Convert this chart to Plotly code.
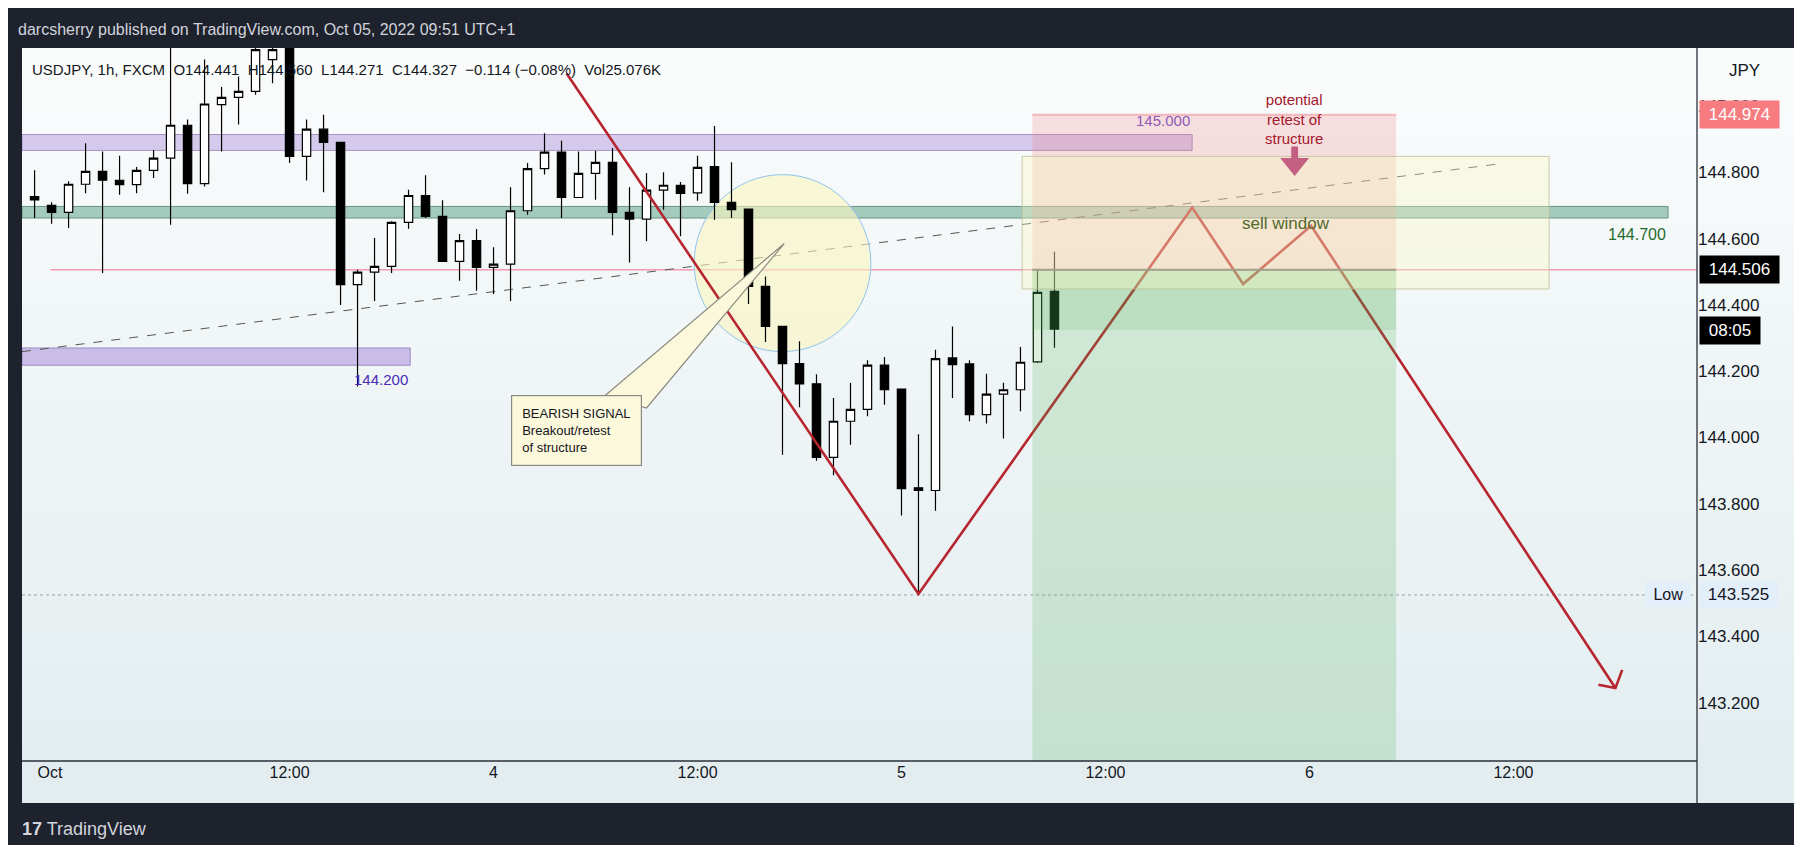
import plotly.graph_objects as go

# hours since Oct 3 00:00 (UTC+1)
hours = list(range(-3, 58))
opens = [144.727,144.700,144.679,144.764,144.803,144.776,144.763,144.806,144.843,144.942,
         144.766,145.004,145.026,145.044,145.140,145.190,144.848,144.930,144.890,144.461,
         144.499,144.516,144.649,144.730,144.667,144.531,144.594,144.513,144.523,144.684,
         144.811,144.861,144.724,144.797,144.830,144.679,144.659,144.746,144.761,144.738,
         144.817,144.709,144.689,144.456,144.335,144.223,144.162,143.940,144.049,144.085,
         144.218,144.146,143.848,143.840,144.240,144.222,144.069,144.131,144.144,144.228,144.441]
highs = [144.806,144.710,144.773,144.888,144.863,144.850,144.816,144.867,145.175,144.959,
         145.140,145.057,145.089,145.205,145.210,145.200,144.959,144.974,144.890,144.506,
         144.602,144.652,144.747,144.791,144.716,144.614,144.629,144.574,144.755,144.828,
         144.918,144.895,144.863,144.865,144.873,144.755,144.798,144.800,144.771,144.850,
         144.940,144.830,144.689,144.486,144.335,144.290,144.191,144.119,144.164,144.233,
         144.243,144.146,144.010,144.265,144.335,144.233,144.192,144.165,144.273,144.506,144.560]
lows = [144.662,144.645,144.632,144.737,144.496,144.732,144.737,144.783,144.642,144.735,
        144.757,144.863,144.944,145.034,145.069,144.828,144.775,144.740,144.400,144.154,
        144.412,144.496,144.630,144.662,144.530,144.473,144.443,144.433,144.412,144.672,
        144.793,144.662,144.724,144.717,144.610,144.528,144.592,144.687,144.607,144.714,
        144.657,144.662,144.403,144.288,143.948,144.091,143.930,143.886,143.978,144.064,
        144.099,143.765,143.525,143.779,144.119,144.049,144.042,143.997,144.079,144.225,144.271]
closes = [144.717,144.679,144.764,144.803,144.776,144.763,144.806,144.843,144.942,144.766,
          145.006,145.026,145.044,145.170,145.170,144.848,144.930,144.890,144.461,144.499,
          144.516,144.649,144.730,144.667,144.531,144.594,144.513,144.523,144.684,144.811,
          144.861,144.724,144.797,144.830,144.679,144.659,144.746,144.761,144.736,144.815,
          144.709,144.687,144.456,144.335,144.223,144.162,143.940,144.049,144.085,144.218,
          144.144,143.846,143.840,144.238,144.220,144.069,144.131,144.144,144.227,144.438,144.327]

x_tick_pos = [-2.1, 12, 24, 36, 48, 60, 72, 84]
x_tick_text = ["Oct", "12:00", "4", "12:00", "5", "12:00", "6", "12:00"]
y_ticks = [143.2, 143.4, 143.6, 143.8, 144.0, 144.2, 144.4, 144.6, 144.8, 145.0]

# projection zigzag (hour, price)
zig_x = [28.3, 49.0, 65.1, 68.1, 72.1, 90.0]
zig_y = [145.098, 143.528, 144.694, 144.463, 144.639, 143.244]
arrow_x = [89.0, 90.0, 90.4]
arrow_y = [143.254, 143.244, 143.299]

last_price = 144.506
stop_price = 144.974
low_price = 143.525
countdown_price = 144.324

XR = [-3.74, 94.8]
YR = [143.024, 145.175]
RED = "#b7252f"
FONT = "Liberation Sans"
ZX0, ZX1 = 55.7, 77.1

fig = go.Figure()

fig.add_trace(go.Scatter(x=zig_x, y=zig_y, mode="lines", line=dict(color=RED, width=2.6),
                         hoverinfo="skip"))
fig.add_trace(go.Scatter(x=arrow_x, y=arrow_y, mode="lines", line=dict(color=RED, width=2.6),
                         hoverinfo="skip"))
fig.add_trace(go.Candlestick(
    x=hours, open=opens, high=highs, low=lows, close=closes,
    increasing=dict(fillcolor="white", line=dict(color="black", width=1.2)),
    decreasing=dict(fillcolor="black", line=dict(color="black", width=1.2)),
    whiskerwidth=0))

shapes = []
# background gradient over panel (plot + axis areas); stripes overlap to avoid seams
n = 26
ybot, ytop = -0.0589, 1.0
step = (ytop - ybot) / n
for i in range(n):
    t = i / (n - 1)
    r = int(250 - 23 * t); g = int(252 - 15 * t); b = int(252 - 12 * t)
    y1 = ytop - step * i
    y0 = max(ybot, y1 - step * 1.6)
    shapes.append(dict(type="rect", xref="paper", yref="paper", x0=0, x1=1.0585,
                       y0=y0, y1=y1, fillcolor=f"rgb({r},{g},{b})",
                       line=dict(width=0), layer="below"))
# bands
shapes += [
    dict(type="rect", x0=XR[0], x1=65.1, y0=144.866, y1=144.914,
         fillcolor="rgba(190,170,225,0.6)", line=dict(color="rgba(150,130,190,0.8)", width=1), layer="below"),
    dict(type="rect", x0=XR[0], x1=93.1, y0=144.662, y1=144.697,
         fillcolor="rgba(110,170,150,0.6)", line=dict(color="rgba(80,130,110,0.8)", width=1), layer="below"),
    dict(type="rect", x0=XR[0], x1=19.1, y0=144.218, y1=144.270,
         fillcolor="rgba(190,170,225,0.75)", line=dict(color="rgba(150,130,190,0.9)", width=1), layer="below"),
    dict(type="line", x0=-2.06, x1=XR[1], y0=last_price, y1=last_price,
         line=dict(color="#f29ab8", width=1.5), layer="below"),
    dict(type="line", x0=XR[0], x1=XR[1], y0=low_price, y1=low_price,
         line=dict(color="#9aa0a6", width=1, dash="dot"), layer="below"),
    dict(type="line", x0=XR[0], x1=83.1, y0=144.259, y1=144.825,
         line=dict(color="#555", width=1, dash="dash"), layer="below"),
    dict(type="circle", x0=35.8, x1=46.2, y0=144.259, y1=144.793,
         fillcolor="rgba(250,245,190,0.6)", line=dict(color="#90c4ee", width=1), layer="below"),
]
# position zones
shapes += [
    dict(type="rect", x0=ZX0, x1=ZX1, y0=last_price, y1=stop_price,
         fillcolor="rgba(242,120,120,0.22)", line=dict(width=0), layer="above"),
    dict(type="line", x0=ZX0, x1=ZX1, y0=stop_price, y1=stop_price,
         line=dict(color="rgba(240,130,140,0.5)", width=2), layer="above"),
    dict(type="rect", x0=ZX0, x1=ZX1, y0=YR[0], y1=last_price,
         fillcolor="rgba(76,175,80,0.2)", line=dict(width=0), layer="above"),
    dict(type="rect", x0=ZX0, x1=ZX1, y0=countdown_price, y1=last_price,
         fillcolor="rgba(76,175,80,0.15)", line=dict(width=0), layer="above"),
    dict(type="line", x0=ZX0, x1=ZX1, y0=last_price, y1=last_price,
         line=dict(color="#707070", width=2), layer="above"),
    dict(type="rect", x0=55.1, x1=86.1, y0=144.448, y1=144.848,
         fillcolor="rgba(250,250,190,0.35)", line=dict(color="rgba(190,190,150,0.8)", width=1), layer="above"),
    # callout pointer
    dict(type="path", path="M 30.6 144.128 L 41.1 144.585 L 33.0 144.089 Z",
         fillcolor="#fbf8dc", line=dict(color="#8a8a80", width=1.2), layer="above"),
    # down block arrow
    dict(type="path",
         path="M 70.93 144.878 L 71.33 144.878 L 71.33 144.843 L 71.98 144.843 L 71.13 144.789 L 70.28 144.843 L 70.93 144.843 Z",
         fillcolor="rgba(190,80,120,0.9)", line=dict(width=0), layer="above"),
    # frame lines
    dict(type="line", xref="paper", yref="paper", x0=1, x1=1, y0=ybot, y1=1,
         line=dict(color="#2a2e39", width=1.3)),
    dict(type="line", xref="paper", yref="paper", x0=0, x1=1, y0=0, y1=0,
         line=dict(color="#2a2e39", width=1.3)),
]

ann = [
    dict(xref="paper", yref="paper", x=0.005, y=0.985, xanchor="left", yanchor="top",
         text="USDJPY, 1h, FXCM  O144.441  H144.560  L144.271  C144.327  −0.114 (−0.08%)  Vol25.076K",
         showarrow=False, font=dict(size=15, color="#131722")),
    dict(x=63.4, y=144.957, text="145.000", showarrow=False, xanchor="center",
         font=dict(size=15, color="#8e5bb8")),
    dict(x=93.1, y=144.612, text="144.700", showarrow=False, xanchor="right",
         font=dict(size=16, color="#1f6b2a")),
    dict(x=17.4, y=144.176, text="144.200", showarrow=False, xanchor="center",
         font=dict(size=15, color="#4a2ab5")),
    dict(x=70.6, y=144.647, text="sell window", showarrow=False,
         font=dict(size=17, color="#4f6a2e")),
    dict(x=71.1, y=144.962, text="potential<br>retest of<br>structure", showarrow=False,
         font=dict(size=15, color="#a3182c")),
    dict(x=25.0, y=144.128, xanchor="left", yanchor="top", align="left",
         text="BEARISH SIGNAL<br>Breakout/retest<br>of structure", showarrow=False,
         bgcolor="#fbf8dc", bordercolor="#8a8a80", borderwidth=1.2, borderpad=10,
         font=dict(size=13, color="#131722")),
    # price badges
    dict(xref="paper", x=1, y=stop_price, xanchor="left", xshift=2, text=" 144.974 ",
         showarrow=False, bgcolor="#f77c80", font=dict(size=17, color="white"), borderpad=4),
    dict(xref="paper", x=1, y=last_price, xanchor="left", xshift=2, text=" 144.506 ",
         showarrow=False, bgcolor="#000000", font=dict(size=17, color="white"), borderpad=4),
    dict(xref="paper", x=1, y=countdown_price, xanchor="left", xshift=2, text=" 08:05 ",
         showarrow=False, bgcolor="#000000", font=dict(size=17, color="white"), borderpad=4),
    dict(xref="paper", x=1, y=low_price, xanchor="left", xshift=2, text=" 143.525 ",
         showarrow=False, bgcolor="#e3eefb", font=dict(size=17, color="#131722"), borderpad=3),
    dict(xref="paper", x=1, y=low_price, xanchor="right", xshift=-6, text=" Low ",
         showarrow=False, bgcolor="#e3eefb", font=dict(size=16, color="#131722"), borderpad=3),
    dict(xref="paper", yref="paper", x=1, y=0.985, xanchor="left", xshift=30, yanchor="top",
         text="JPY", showarrow=False, font=dict(size=17, color="#131722")),
    # header / footer
    dict(xref="paper", yref="paper", x=0, y=1, xanchor="left", yanchor="bottom", xshift=-6, yshift=8,
         text="darcsherry published on TradingView.com, Oct 05, 2022 09:51 UTC+1",
         showarrow=False, font=dict(size=16, color="#d1d4dc")),
    dict(xref="paper", yref="paper", x=0, y=-0.095, xanchor="left", yanchor="middle", xshift=-2,
         text="<b>17</b> TradingView", showarrow=False, font=dict(size=18, color="#d1d4dc")),
]

fig.update_layout(
    width=1802, height=845,
    margin=dict(l=14, r=113, t=40, b=92),
    paper_bgcolor="#1e222d", plot_bgcolor="rgba(0,0,0,0)",
    showlegend=False, shapes=shapes, annotations=ann,
    font=dict(family=FONT),
    xaxis=dict(range=XR, rangeslider=dict(visible=False), showgrid=False, zeroline=False,
               tickvals=x_tick_pos, ticktext=x_tick_text, ticks="", tickfont=dict(size=16, color="#131722"),
               showline=False),
    yaxis=dict(range=YR, side="right", showgrid=False, zeroline=False,
               tickvals=y_ticks, ticktext=[f"{v:.3f}" for v in y_ticks], ticks="",
               tickfont=dict(size=17, color="#131722"), showline=False),
)

fig.write_html("out.html")
